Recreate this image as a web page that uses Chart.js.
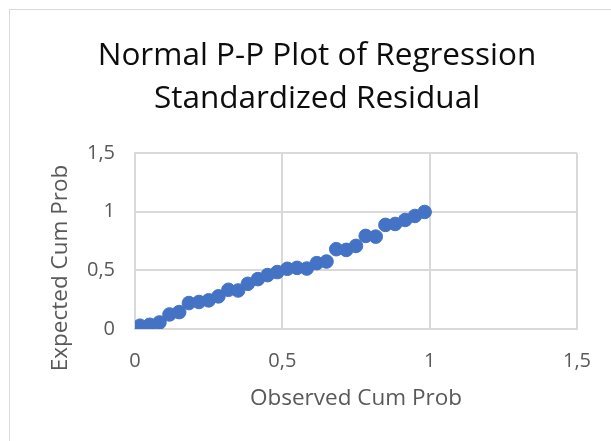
<!DOCTYPE html>
<html>
<head>
<meta charset="utf-8">
<script src="https://cdn.jsdelivr.net/npm/chart.js@4"></script>
<style>
  html, body { margin: 0; padding: 0; background: #fff; }
  body { width: 611px; height: 441px; position: relative; overflow: hidden; }
  .frame { position: absolute; left: 9px; top: 9px; width: 640px; height: 480px; border: 1px solid #d9d9d9; }
  .wrap { position: absolute; left: 0; top: 0; width: 611px; height: 441px; }
</style>
</head>
<body>
<div class="frame"></div>
<div class="wrap"><canvas id="ppChart" width="611" height="441"></canvas></div>
<script>
// valores
const observedCumProb = [0.017, 0.05, 0.083, 0.117, 0.15, 0.183, 0.217, 0.25, 0.283, 0.317,
  0.35, 0.383, 0.417, 0.45, 0.483, 0.517, 0.55, 0.583, 0.617, 0.65,
  0.683, 0.717, 0.75, 0.783, 0.817, 0.85, 0.883, 0.917, 0.95, 0.983];
const expectedCumProb = [0.028, 0.036, 0.056, 0.124, 0.144, 0.221, 0.23, 0.244, 0.278, 0.334,
  0.328, 0.385, 0.425, 0.459, 0.485, 0.513, 0.521, 0.515, 0.561, 0.575,
  0.68, 0.674, 0.708, 0.793, 0.787, 0.887, 0.895, 0.929, 0.963, 0.997];
const axisTicks = [0, 0.5, 1, 1.5];
const titleLines = ['Normal P-P Plot of Regression', 'Standardized Residual'];

const points = observedCumProb.map((x, i) => ({ x: x, y: expectedCumProb[i] }));
const fmt = v => String(v).replace('.', ',');
const FONT = "'Open Sans', sans-serif";

// centra el titulo sobre todo el cuadro y dibuja el titulo del eje Y
const layoutFix = {
    id: 'layoutFix',
    afterLayout(chart) {
        chart.titleBlock.left = 23;
        chart.titleBlock.right = 611;
    },
    afterDraw(chart) {
        const c = chart.ctx;
        c.save();
        c.translate(61, 268);
        c.rotate(-Math.PI / 2);
        c.font = '22.5px ' + FONT;
        c.fillStyle = '#595959';
        c.textAlign = 'center';
        c.textBaseline = 'middle';
        c.fillText('Expected Cum Prob', 0, 0);
        c.restore();
    }
};

const ctx = document.getElementById('ppChart').getContext('2d');
const ppChart = new Chart(ctx, {
    type: 'scatter',
    data: {
        datasets: [{
            data: points,
            backgroundColor: '#4472C4',
            borderColor: '#4472C4',
            pointRadius: 6.8,
            pointHoverRadius: 6.8
        }]
    },
    options: {
        responsive: false,
        animation: false,
        layout: { padding: { left: 0, right: 30, top: 0, bottom: 0 } },
        plugins: {
            legend: { display: false },
            tooltip: { enabled: false },
            title: {
                display: true,
                text: titleLines,
                color: '#0d0d0d',
                font: { family: FONT, size: 31.5, weight: 'normal', lineHeight: 1.38 },
                padding: { top: 34, bottom: 32 }
            }
        },
        scales: {
            x: {
                type: 'linear',
                min: 0,
                max: 1.5,
                afterBuildTicks: s => { s.ticks = axisTicks.map(v => ({ value: v })); },
                afterFit: s => { s.height = 112; },
                ticks: { callback: fmt, color: '#595959', font: { family: FONT, size: 20 }, padding: 20, maxRotation: 0 },
                grid: { color: '#d9d9d9', lineWidth: 2, drawTicks: false },
                border: { color: '#d9d9d9', width: 2 },
                title: { display: true, text: 'Observed Cum Prob', color: '#595959', font: { family: FONT, size: 22.5 }, padding: { top: 0, bottom: 29 } }
            },
            y: {
                type: 'linear',
                min: 0,
                max: 1.5,
                afterBuildTicks: s => { s.ticks = axisTicks.map(v => ({ value: v })); },
                afterFit: s => { s.width = 135; },
                ticks: { callback: fmt, color: '#595959', font: { family: FONT, size: 20 }, padding: 20 },
                grid: { color: '#d9d9d9', lineWidth: 2, drawTicks: false },
                border: { color: '#d9d9d9', width: 2 }
            }
        }
    },
    plugins: [layoutFix]
});
</script>
</body>
</html>
